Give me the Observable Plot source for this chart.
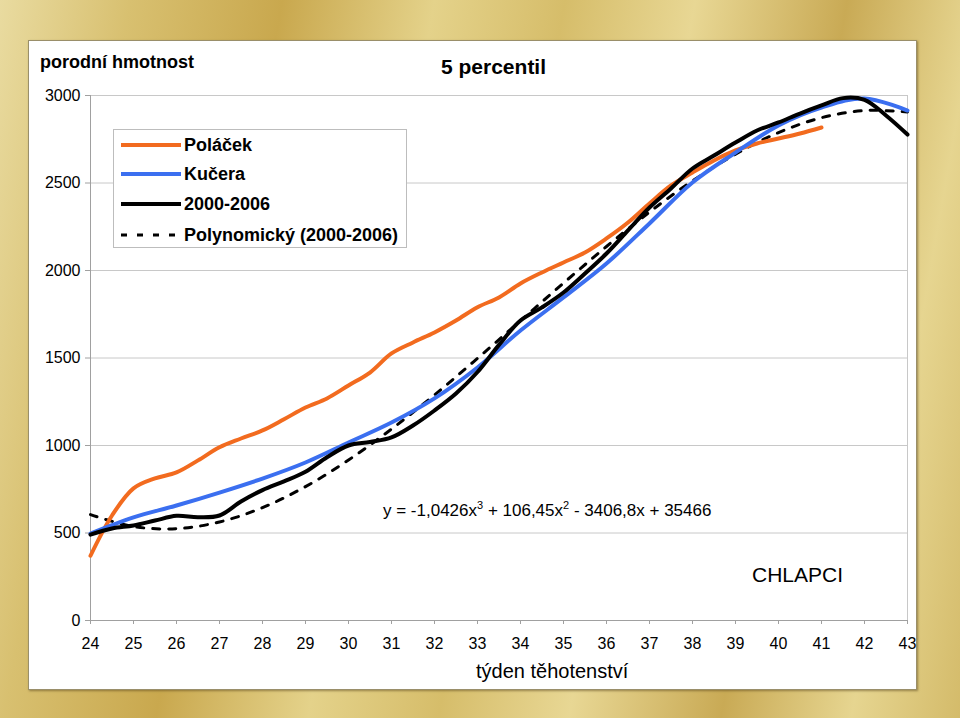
<!DOCTYPE html>
<html>
<head>
<meta charset="utf-8">
<script src="https://cdn.jsdelivr.net/npm/d3@7"></script>
<script src="https://cdn.jsdelivr.net/npm/@observablehq/plot@0.6"></script>
<style>
  html, body { margin:0; padding:0; }
  body {
    width:960px; height:718px; position:relative; overflow:hidden;
    font-family:"Liberation Sans", Arial, sans-serif;
    background:
      linear-gradient(100deg, #e9dba0 0%, #d8c070 12%, #c9a84e 26%, #e4d28a 40%, #d6bd6a 52%, #e8d794 64%, #c9aa55 78%, #e6d590 90%, #d4bb6a 100%);
  }
  #panel { position:absolute; left:28px; top:40px; width:887px; height:648px; background:#fff;
           border:1px solid #9a8f6a; box-shadow:1px 1px 2px rgba(80,60,20,0.5); }
  #chart { position:absolute; left:0; top:0; }
  .t { position:absolute; white-space:nowrap; color:#000; }
  #legend { position:absolute; left:113px; top:129px; width:292px; height:117px; background:#fff; border:1px solid #bdbdbd; }
  #legend .row { position:absolute; height:20px; font-size:18px; font-weight:bold; line-height:20px; }
  #legend svg { position:absolute; left:0; top:0; }
</style>
</head>
<body>
<div id="panel"></div>
<div id="chart"></div>
<div class="t" style="left:40px; top:52px; font-size:18px; font-weight:bold;">porodní hmotnost</div>
<div class="t" style="left:441px; top:55px; font-size:21px; font-weight:bold;">5 percentil</div>
<div class="t" style="left:476px; top:660px; font-size:20px;">týden těhotenství</div>
<div class="t" style="left:383px; top:499px; font-size:17px;">y = -1,0426x<sup style="font-size:11px">3</sup> + 106,45x<sup style="font-size:11px">2</sup> - 3406,8x + 35466</div>
<div class="t" style="left:752px; top:563px; font-size:21px;">CHLAPCI</div>
<div id="legend"></div>
<script>
// ---- data ----
const weeks = d3.range(24, 44);               // 24..43
const halfWeeksPolacek = d3.range(24, 41.01, 0.5);
const halfWeeks = d3.range(24, 43.01, 0.5);

const polacek = [370,600,755,812,846,915,990,1040,1086,1150,1217,1269,1343,1417,1526,1589,1646,1714,1790,1846,1926,1989,2046,2103,2183,2274,2383,2486,2560,2629,2686,2726,2754,2783,2817];
const kucera  = [497,589,657,731,811,903,1017,1131,1269,1446,1657,1846,2040,2269,2503,2674,2829,2931,2983,2914];
const y2000   = [491,526,543,571,598,590,600,680,745,795,850,933,1000,1020,1046,1114,1200,1297,1420,1575,1714,1789,1874,1983,2097,2229,2360,2469,2583,2657,2731,2800,2846,2897,2943,2985,2975,2886,2777];
const polyTrend = [605,537,525,563,645,765,917,1094,1289,1498,1713,1928,2137,2334,2512,2665,2788,2873,2914,2906];
const yTicks = [0,500,1000,1500,2000,2500,3000];

const seriesNames = ["Poláček","Kučera","2000-2006","Polynomický (2000-2006)"];
const colors = {"Poláček":"#f26b1f","Kučera":"#3b6ff0","2000-2006":"#000000","Polynomický (2000-2006)":"#000000"};

const dPol = halfWeeksPolacek.map((w,i)=>({w, v:polacek[i]}));
const dKuc = weeks.map((w,i)=>({w, v:kucera[i]}));
const d2000 = halfWeeks.map((w,i)=>({w, v:y2000[i]}));
const dTrend = weeks.map((w,i)=>({w, v:polyTrend[i]}));

const chart = Plot.plot({
  width:960, height:718,
  marginLeft:90, marginRight:53, marginTop:95, marginBottom:98,
  style:{background:"transparent", fontFamily:"'Liberation Sans', Arial, sans-serif"},
  x:{domain:[24,43], ticks:weeks, tickFormat:d=>String(d), label:null},
  y:{domain:[0,3000], ticks:yTicks, tickFormat:d=>String(d), label:null},
  marks:[
    Plot.gridY(yTicks, {stroke:"#c8c8c8", strokeOpacity:1}),
    Plot.ruleX([24], {stroke:"#a0a0a0"}),
    Plot.ruleX([43], {stroke:"#c8c8c8"}),
    Plot.ruleY([0], {stroke:"#a0a0a0"}),
    Plot.axisY(yTicks, {tickSize:5, tickPadding:5, fontSize:16, tickFormat:d=>String(d), stroke:"#a0a0a0", label:null}),
    Plot.axisX(weeks, {tickSize:4, tickPadding:13, fontSize:16, tickFormat:d=>String(d), stroke:"#a0a0a0", label:null, fontFamily:"'Liberation Sans Narrow', 'Liberation Sans', Arial, sans-serif"}),
    Plot.line(dTrend, {x:"w", y:"v", stroke:colors["Polynomický (2000-2006)"], strokeWidth:3, strokeDasharray:"7,9", curve:"catmull-rom"}),
    Plot.line(dPol, {x:"w", y:"v", stroke:colors["Poláček"], strokeWidth:4, curve:"catmull-rom"}),
    Plot.line(dKuc, {x:"w", y:"v", stroke:colors["Kučera"], strokeWidth:4, curve:"catmull-rom"}),
    Plot.line(d2000, {x:"w", y:"v", stroke:colors["2000-2006"], strokeWidth:4, curve:"catmull-rom"})
  ]
});
chart.querySelectorAll("text").forEach(t=>t.setAttribute("fill","#000"));
document.getElementById("chart").appendChild(chart);

// ---- legend ----
const leg = document.getElementById("legend");
const rowsY = [15, 44, 74, 105];
const svgNS = "http://www.w3.org/2000/svg";
const ls = document.createElementNS(svgNS,"svg");
ls.setAttribute("width",292); ls.setAttribute("height",117);
seriesNames.forEach((name,i)=>{
  const ln = document.createElementNS(svgNS,"line");
  ln.setAttribute("x1",7); ln.setAttribute("x2",67);
  ln.setAttribute("y1",rowsY[i]); ln.setAttribute("y2",rowsY[i]);
  ln.setAttribute("stroke",colors[name]);
  ln.setAttribute("stroke-width", i===3 ? 3 : 4);
  if(i===3) ln.setAttribute("stroke-dasharray","6,10");
  ls.appendChild(ln);
});
leg.appendChild(ls);
seriesNames.forEach((name,i)=>{
  const r = document.createElement("div");
  r.className="row"; r.textContent=name;
  r.style.left="70px"; r.style.top=(rowsY[i]-10)+"px";
  leg.appendChild(r);
});
</script>
</body>
</html>
